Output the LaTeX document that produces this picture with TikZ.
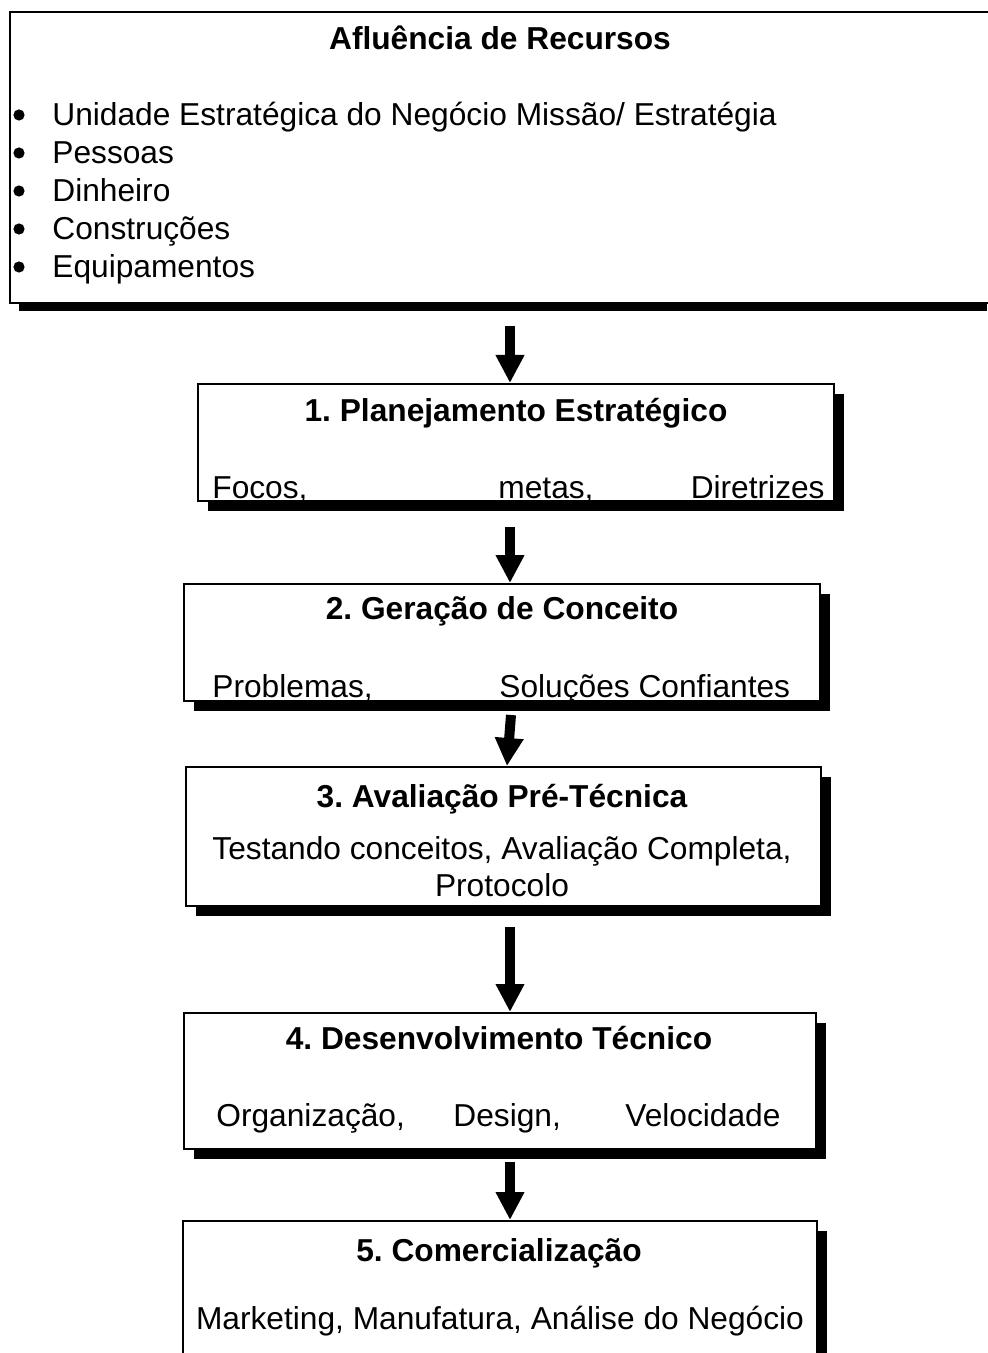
\documentclass[tikz,border=0pt]{standalone}
\usepackage{fontspec}
\setmainfont{Liberation Sans}
\frenchspacing
\usetikzlibrary{arrows.meta,calc,shadows}

\tikzset{
  stage/.style={draw, line width=1pt, fill=white, inner sep=0pt, anchor=north west,
    drop shadow={shadow xshift=5pt, shadow yshift=-5pt, fill=black, opacity=1}},
  edge/.style={line width=1pt},
  txt/.style={inner sep=0pt, font=\fontsize{15.85}{19}\selectfont},
  ttl/.style={inner sep=0pt, font=\fontsize{15.85}{19}\selectfont\bfseries},
  dot/.style={circle, fill=black, inner sep=0pt, minimum size=5.6pt},
  flow/.style={line width=5pt, -{Triangle[width=13.5pt,length=14pt]}},
}

\begin{document}
\begin{tikzpicture}[x=0.5pt,y=-0.5pt]
\useasboundingbox (0,0) rectangle (987,1353);
\fill[white] (0,0) rectangle (987,1353);

% resources box: open to the right, its shadow runs along the bottom only
\fill[black] (19,21) rectangle (987,311);
\node[fill=white, inner sep=0pt, anchor=north west,
      minimum width=488.5pt, minimum height=145pt] (top) at (10,12) {};
\draw[edge] (top.north east) -- (top.north west) -- (top.south west) -- (top.south east);
\node[ttl, anchor=base] (ttop) at (500,50) {Afluência de Recursos};
\node[dot] (d1) at (19,115) {};
\node[dot] (d2) at (19,153) {};
\node[dot] (d3) at (19,191) {};
\node[dot] (d4) at (19,229) {};
\node[dot] (d5) at (19,267) {};
\node[txt, anchor=base west] (r1) at (52,126) {Unidade Estratégica do Negócio Missão/ Estratégia};
\node[txt, anchor=base west] (r2) at (52,164) {Pessoas};
\node[txt, anchor=base west] (r3) at (52,202) {Dinheiro};
\node[txt, anchor=base west] (r4) at (52,240) {Construções};
\node[txt, anchor=base west] (r5) at (52,278) {Equipamentos};

% stage 1
\node[stage, minimum width=318pt, minimum height=58.5pt] (b1) at (197,383) {};
\node[ttl, anchor=base] (t1) at (516,421) {1. Planejamento Estratégico};
\node[txt, anchor=base west] (s1a) at (212,498) {Focos,};
\node[txt, anchor=base west] (s1b) at (498,498) {metas,};
\node[txt, anchor=base east] (s1c) at (825,498) {Diretrizes};

% stage 2
\node[stage, minimum width=318pt, minimum height=58.5pt] (b2) at (183,583) {};
\node[ttl, anchor=base] (t2) at (502,619) {2. Geração de Conceito};
\node[txt, anchor=base west] (s2a) at (212,697) {Problemas,};
\node[txt, anchor=base west] (s2b) at (499,697) {Soluções Confiantes};

% stage 3
\node[stage, minimum width=317.5pt, minimum height=69.5pt] (b3) at (185,766) {};
\node[ttl, anchor=base] (t3) at (502,807) {3. Avaliação Pré-Técnica};
\node[txt, anchor=base] (s3a) at (502,859) {Testando conceitos, Avaliação Completa,};
\node[txt, anchor=base] (s3b) at (502,896) {Protocolo};

% stage 4
\node[stage, minimum width=316pt, minimum height=68pt] (b4) at (183,1012) {};
\node[ttl, anchor=base] (t4) at (499,1049) {4. Desenvolvimento Técnico};
\node[txt, anchor=base west] (s4a) at (216,1126) {Organização,};
\node[txt, anchor=base west] (s4b) at (453,1126) {Design,};
\node[txt, anchor=base west] (s4c) at (625,1126) {Velocidade};

% stage 5 (runs off the bottom edge)
\begin{scope}
\clip (0,0) rectangle (987,1353);
\node[stage, minimum width=317pt, minimum height=100pt] (b5) at (182,1220) {};
\end{scope}
\node[ttl, anchor=base] (t5) at (499,1261) {5. Comercialização};
\node[txt, anchor=base] (s5a) at (500,1329) {Marketing, Manufatura, Análise do Negócio};

% flow arrows
\coordinate (ax) at (510,0);
\draw[flow] ($(top.south -| ax)+(0,23)$) -- (b1.north -| ax);
\draw[flow] ($(b1.south -| ax)+(0,25)$) -- (b2.north -| ax);
\draw[flow] ($(b2.south -| ax)+(1,13)$) -- ($(b3.north -| ax)+(-3,0)$);
\draw[flow] ($(b3.south -| ax)+(0,20)$) -- (b4.north -| ax);
\draw[flow] ($(b4.south -| ax)+(0,12)$) -- (b5.north -| ax);
\end{tikzpicture}
\end{document}
